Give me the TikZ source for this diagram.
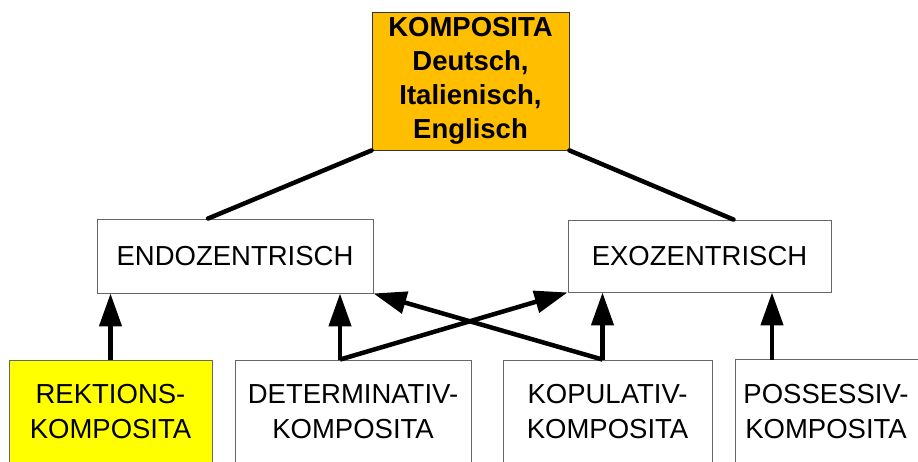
\documentclass[tikz,border=0pt]{standalone}
\usepackage{fontspec}
\setmainfont{Liberation Sans}
\usetikzlibrary{arrows.meta}
\definecolor{orangeK}{RGB}{255,190,0}
\definecolor{yellowK}{RGB}{255,255,0}
\begin{document}
\begin{tikzpicture}[x=1pt,y=-1pt,
  boxline/.style={draw=black!60,line width=0.9pt},
  box/.style={boxline,align=center,inner sep=0pt,
    font=\fontsize{27.5}{35}\selectfont},
  conn/.style={line width=4.5pt,line cap=round},
  arr/.style={line width=4.5pt,-{Triangle[length=33pt,width=22pt]}}]
\useasboundingbox (0,0) rectangle (918,461);
\clip (0,0) rectangle (918,461);
\node[box,fill=orangeK,draw=black!80,minimum width=197pt,minimum height=138pt,
  font=\bfseries\fontsize{27.5}{34}\selectfont] (top) at (470.5,81)
  {KOMPOSITA\\Deutsch,\\Italienisch,\\Englisch};
\node[box,minimum width=276pt,minimum height=74pt] (endo) at (235,256) {ENDOZENTRISCH};
\node[box,minimum width=263pt,minimum height=72pt] (exo) at (699.5,256) {EXOZENTRISCH};
\node[box,fill=yellowK,minimum width=203pt,minimum height=104pt] (rek) at (110.5,412) {REKTIONS-\\KOMPOSITA};
\node[box,minimum width=236pt,minimum height=104pt] (det) at (353,412) {DETERMINATIV-\\KOMPOSITA};
\node[box,minimum width=209pt,minimum height=104pt] (kop) at (607.5,412) {KOPULATIV-\\KOMPOSITA};
\node[box,draw=none,minimum width=180pt,minimum height=104pt] (poss) at (826,412) {POSSESSIV-\\KOMPOSITA};
\draw[boxline] (poss.north west) rectangle ([xshift=40pt]poss.south east);
\draw[conn] (top.south west) -- ([xshift=-27pt]endo.north);
\draw[conn] (top.south east) -- ([xshift=34pt]exo.north);
\draw[arr] (rek.north) -- (rek.north |- endo.south);
\draw[arr] ([xshift=-13pt]det.north) -- ([xshift=-13pt]det.north |- endo.south);
\draw[arr] ([xshift=-13pt]det.north) -- (exo.south west);
\draw[arr] ([xshift=-5pt]kop.north) -- ([xshift=-5pt]kop.north |- exo.south);
\draw[arr] ([xshift=-5pt]kop.north) -- (endo.south east);
\draw[arr] ([xshift=-54pt]poss.north) -- ([xshift=-54pt]poss.north |- exo.south);
\end{tikzpicture}
\end{document}
